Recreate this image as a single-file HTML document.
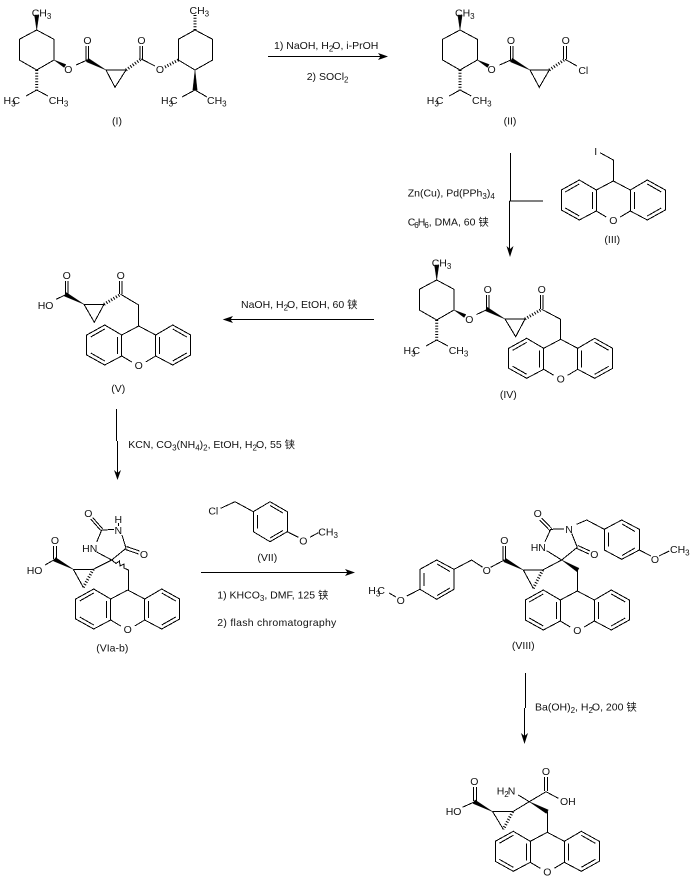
<!DOCTYPE html>
<html><head><meta charset="utf-8">
<style>
html,body{margin:0;padding:0;background:#fff}
svg{display:block}
path{fill:none;stroke:#000;stroke-width:1;shape-rendering:crispEdges}
.w{fill:#000;stroke:#000;stroke-width:.4;shape-rendering:auto}
.h{stroke-width:3;stroke-dasharray:1 1.8;shape-rendering:auto}
.a{fill:#000;stroke:none;shape-rendering:auto}
text{font-family:"Liberation Sans","Noto Sans CJK SC",sans-serif;font-size:10.5px;fill:#111}
.m{text-anchor:middle}
.s{font-size:8px}
</style></head><body>
<svg width="693" height="883" viewBox="0 0 693 883" xmlns="http://www.w3.org/2000/svg">
<rect width="693" height="883" fill="#fff"/>

<!-- (I) -->
<g>
<path d="M36.7 30L54 39.3V60L36.7 70L19.3 60V39.3ZM36.7 90L26 96M36.7 90L48 96"/>
<path class="w" d="M36.7 30L34.5 15H38.9Z"/>
<path class="w" d="M54 60L64.1 67.5L65.9 64.5Z"/>
<path class="h" d="M36.7 70V90"/>
<text x="31.7" y="16.7">CH<tspan class="s" dy="2.5">3</tspan></text>
<text x="68.3" y="73" class="m">O</text>
<text x="3.5" y="104">H<tspan class="s" dy="2.5">3</tspan><tspan dy="-2.5" dx="-3">C</tspan></text>
<text x="48.7" y="104">CH<tspan class="s" dy="2.5">3</tspan></text>
</g>
<path d="M76 65L87.3 60M86 60V46M88.6 60V46M106 70H126L115 87.3L106 70M141.3 59L155 66M140 59V46M142.6 59V46"/>
<path class="w" d="M106 70L88.3 58.2L86.3 61.8Z"/>
<path class="h" d="M126 70L141.3 59"/>
<text x="87.5" y="44" class="m">O</text>
<text x="141.5" y="44" class="m">O</text>
<text x="160" y="73" class="m">O</text>
<path d="M178.3 60V39.3L195 30L212.7 39.3V60L195 70L178.3 60M195 90L182 97M195 90L207 97"/>
<path class="h" d="M178.3 60L165 67M195 30V15"/>
<path class="w" d="M195 70L192.8 90H197.2Z"/>
<text x="189.5" y="14">CH<tspan class="s" dy="2.5">3</tspan></text>
<text x="161" y="104">H<tspan class="s" dy="2.5">3</tspan><tspan dy="-2.5" dx="-3">C</tspan></text>
<text x="207" y="104">CH<tspan class="s" dy="2.5">3</tspan></text>
<text x="117" y="124.5" class="m">(I)</text>

<!-- Arrow 1 -->
<path d="M268 56.5H382"/>
<path class="a" d="M388 56.5L378 53L380.5 56.5L378 60Z"/>
<text x="274" y="49">1) NaOH, H<tspan class="s" dy="2.5">2</tspan><tspan dy="-2.5" dx="-1">O, i-PrOH</tspan></text>
<text x="306.7" y="80">2) SOCl<tspan class="s" dy="2.5">2</tspan></text>

<!-- (II) -->
<g transform="translate(423.3,0)">
<path d="M36.7 30L54 39.3V60L36.7 70L19.3 60V39.3ZM36.7 90L26 96M36.7 90L48 96"/>
<path class="w" d="M36.7 30L34.5 15H38.9Z"/>
<path class="w" d="M54 60L64.1 67.5L65.9 64.5Z"/>
<path class="h" d="M36.7 70V90"/>
<text x="31.7" y="16.7">CH<tspan class="s" dy="2.5">3</tspan></text>
<text x="68.3" y="73" class="m">O</text>
<text x="3.5" y="104">H<tspan class="s" dy="2.5">3</tspan><tspan dy="-2.5" dx="-3">C</tspan></text>
<text x="48.7" y="104">CH<tspan class="s" dy="2.5">3</tspan></text>
</g>
<path d="M499.5 65L511 60M510.3 60V46M512.9 60V46M530 70H549.3L539.3 87.3L530 70M565 59.3L577 66M563.7 59V46M566.3 59V46"/>
<path class="w" d="M530 70L512.3 58.2L510.3 61.8Z"/>
<path class="h" d="M549.3 70L565 59.3"/>
<text x="511" y="44" class="m">O</text>
<text x="565.7" y="44" class="m">O</text>
<text x="583.3" y="74" class="m">Cl</text>
<text x="510" y="124.5" class="m">(II)</text>

<!-- Arrow II to IV -->
<path d="M510.5 153V201M509.5 201V250M509.5 201H543"/>
<path class="a" d="M510 257L506.5 246L510 249L513.5 246Z"/>
<text x="407.7" y="196.5">Zn(Cu), Pd(PPh<tspan class="s" dy="2.5">3</tspan><tspan dy="-2.5">)</tspan><tspan class="s" dy="2.5">4</tspan></text>
<text x="407.7" y="225.5">C<tspan class="s" dy="2.5" dx="-1">6</tspan><tspan dy="-2.5" dx="-1">H</tspan><tspan class="s" dy="2.5" dx="-1">6</tspan><tspan dy="-2.5">, DMA, 60 铗</tspan></text>

<!-- (III) -->
<text x="595.7" y="155" class="m">I</text>
<path d="M600 152.7L613.3 160V181"/>
<g transform="translate(613.3,181)">
<path d="M0 0L17 9V30L34 39L52 29V9L34 -1L17 9M0 0L-17 9V30L-34 39L-52 29V9L-34 -1L-17 9M-17 30L-7 36M17 30L7 36M-48 11L-34 3M-21 11V28M-48 27L-34 35M48 11L34 3M21 11V28M48 27L34 35"/>
<text x="0" y="43" class="m">O</text>
</g>
<text x="612.3" y="243" class="m">(III)</text>

<!-- (IV) -->
<g transform="translate(400,250)">
<path d="M36.7 30L54 39.3V60L36.7 70L19.3 60V39.3ZM36.7 90L26 96M36.7 90L48 96"/>
<path class="w" d="M36.7 30L34.5 15H38.9Z"/>
<path class="w" d="M54 60L64.1 67.5L65.9 64.5Z"/>
<path class="h" d="M36.7 70V90"/>
<text x="31.7" y="16.7">CH<tspan class="s" dy="2.5">3</tspan></text>
<text x="69.3" y="73" class="m">O</text>
<text x="3.5" y="104">H<tspan class="s" dy="2.5">3</tspan><tspan dy="-2.5" dx="-3">C</tspan></text>
<text x="48.7" y="104">CH<tspan class="s" dy="2.5">3</tspan></text>
</g>
<path d="M476.5 314.5L487.7 309.3M486.4 309V295M489 309V295M505 319H525L515.7 336.7L505 319M541.7 309.3L560.7 319.3V339.3M540.4 309V295M543 309V295"/>
<path class="w" d="M505 319L487.3 307.2L485.3 310.8Z"/>
<path class="h" d="M525 319L541.7 309.3"/>
<text x="487.7" y="293" class="m">O</text>
<text x="541.7" y="293" class="m">O</text>
<g transform="translate(560.7,339.3)">
<path d="M0 0L17 9V30L34 39L52 29V9L34 -1L17 9M0 0L-17 9V30L-34 39L-52 29V9L-34 -1L-17 9M-17 30L-7 36M17 30L7 36M-48 11L-34 3M-21 11V28M-48 27L-34 35M48 11L34 3M21 11V28M48 27L34 35"/>
<text x="0" y="43" class="m">O</text>
</g>
<text x="508.3" y="398" class="m">(IV)</text>

<!-- Arrow IV to V -->
<path d="M374 319.5H229"/>
<path class="a" d="M222.7 319.5L233 316L230.5 319.5L233 323Z"/>
<text x="241" y="308">NaOH, H<tspan class="s" dy="2.5">2</tspan><tspan dy="-2.5" dx="-1">O, EtOH, 60 铗</tspan></text>

<!-- (V) -->
<path d="M56 299.3L66.7 294.3M65.4 294V281M68 294V281M84 304.3H104L94.3 322.3L84 304.3M120.7 294.3L138.7 305V326M119.4 294V281M122 294V281"/>
<path class="w" d="M84 304.3L66.3 292.5L64.3 296.1Z"/>
<path class="h" d="M104 304.3L120.7 294.3"/>
<text x="66.7" y="279" class="m">O</text>
<text x="120.7" y="279" class="m">O</text>
<text x="37.7" y="309">HO</text>
<g transform="translate(138.7,326)">
<path d="M0 0L17 9V30L34 39L52 29V9L34 -1L17 9M0 0L-17 9V30L-34 39L-52 29V9L-34 -1L-17 9M-17 30L-7 36M17 30L7 36M-48 11L-34 3M-21 11V28M-48 27L-34 35M48 11L34 3M21 11V28M48 27L34 35"/>
<text x="0" y="43" class="m">O</text>
</g>
<text x="118.3" y="392" class="m">(V)</text>

<!-- Arrow V to VI -->
<path d="M116.5 409V441M117.5 441V474"/>
<path class="a" d="M117.5 480L114 470L117.5 473L121 470Z"/>
<text x="128.3" y="448">KCN, CO<tspan class="s" dy="2.5">3</tspan><tspan dy="-2.5">(NH</tspan><tspan class="s" dy="2.5">4</tspan><tspan dy="-2.5">)</tspan><tspan class="s" dy="2.5">2</tspan><tspan dy="-2.5">, EtOH, H</tspan><tspan class="s" dy="2.5">2</tspan><tspan dy="-2.5" dx="-1">O, 55 铗</tspan></text>

<!-- (VI) -->
<path d="M101.7 530L114 529.5M122 535L126 548.3L111.7 560M126.5 546.5L139.5 551M125.5 549.5L138.5 554M111.7 560L96.7 552M96.7 542L101.7 530M102.7 529L92.7 517.5M100.7 530.5L90.7 519M118.3 523V526"/>
<path d="M45 565L55 559.3M53.7 559V546M56.3 559V546M73.3 569.3H93.3L111.7 560M73.3 569.3L83.3 587.3M111.7 560L116 563.5L119.5 561L120 566L124 564L124 568L128.3 570V590"/>
<path class="w" d="M73.3 569.3L55.6 557.5L53.6 561.1Z"/>
<path class="h" d="M93.3 569.3L83.3 587.3"/>
<text x="88.3" y="517" class="m">O</text>
<text x="118.3" y="523" class="m">H</text>
<text x="118.3" y="534" class="m">N</text>
<text x="89.7" y="552" class="m">HN</text>
<text x="144" y="558" class="m">O</text>
<text x="55" y="544" class="m">O</text>
<text x="26.7" y="574">HO</text>
<g transform="translate(127.7,590)">
<path d="M0 0L17 9V30L34 39L52 29V9L34 -1L17 9M0 0L-17 9V30L-34 39L-52 29V9L-34 -1L-17 9M-17 30L-7 36M17 30L7 36M-48 11L-34 3M-21 11V28M-48 27L-34 35M48 11L34 3M21 11V28M48 27L34 35"/>
<text x="0" y="43" class="m">O</text>
</g>
<text x="112.3" y="651.5" class="m">(VIa-b)</text>

<!-- (VII) -->
<path d="M220.7 508.3L235 501.7L253.3 511.7L270 501.7L287.3 511.7V531.7L270 541.7L253.3 531.7V511.7M257.5 515V528.5M270 505.5L283 513M270 538L283 530.5M287.3 531.7L298.3 537.3M310 537.3L318.3 532.7"/>
<text x="213.3" y="514.5" class="m">Cl</text>
<text x="303.3" y="544.5" class="m">O</text>
<text x="318.3" y="535.5">CH<tspan class="s" dy="2.5">3</tspan></text>
<text x="267.3" y="561" class="m">(VII)</text>

<!-- Arrow VI to VIII -->
<path d="M201 572.5H349"/>
<path class="a" d="M355 572.5L345 569L347.5 572.5L345 576Z"/>
<text x="217.3" y="598.3">1) KHCO<tspan class="s" dy="2.5">3</tspan><tspan dy="-2.5">, DMF, 125 铗</tspan></text>
<text x="217.3" y="626" textLength="119">2) flash chromatography</text>

<!-- (VIII) -->
<text x="368.3" y="594">H<tspan class="s" dy="2.5">3</tspan><tspan dy="-2.5" dx="-3">C</tspan></text>
<text x="400.7" y="604" class="m">O</text>
<path d="M389 593L396 597M406.7 596L420 589.3V569.3L436.7 560L454 569.3V589.3L436.7 599.3L420 589.3M424 586V573M437 564L450 571.5M437 595.5L450 588M454 569.3L471.7 560L482.7 567.3M490.7 567.3L504.3 560M503 560V546M505.6 560V546M523.3 570H542.7L561.7 560M523.3 570L533.3 588.3"/>
<text x="486.7" y="574" class="m">O</text>
<text x="504.3" y="544" class="m">O</text>
<path class="w" d="M523.3 570L505.6 558.2L503.6 561.8Z"/>
<path class="h" d="M542.7 570L533.3 588.3"/>
<path d="M546.7 550.7L561.7 560L577.3 547.3M545 541.7L550.7 529.3L564 529M551.7 528.5L541.7 518M549.7 530.5L539.7 520M571.7 533.3L577.3 547.3M577.8 545.5L590 551M576.8 548.5L589 554M577.3 570V591M576.7 524.3L586.7 520L604.3 529.3L621.7 520L639.3 529.3V550L621.7 559.3L604.3 550V529.3M608.3 532.5V546.5M622 524L635 531.5M622 555.5L635 548M639.3 550L651 556M659 556L669.3 551"/>
<path class="w" d="M561.7 560L579 568.2L577 571.8Z"/>
<text x="538.3" y="551" class="m">HN</text>
<text x="537.7" y="517" class="m">O</text>
<text x="569" y="533" class="m">N</text>
<text x="594.3" y="558" class="m">O</text>
<text x="655" y="563" class="m">O</text>
<text x="670" y="553">CH<tspan class="s" dy="2.5">3</tspan></text>
<g transform="translate(577.3,591)">
<path d="M0 0L17 9V30L34 39L52 29V9L34 -1L17 9M0 0L-17 9V30L-34 39L-52 29V9L-34 -1L-17 9M-17 30L-7 36M17 30L7 36M-48 11L-34 3M-21 11V28M-48 27L-34 35M48 11L34 3M21 11V28M48 27L34 35"/>
<text x="0" y="43" class="m">O</text>
</g>
<text x="523.3" y="649" class="m">(VIII)</text>

<!-- Arrow VIII to IX -->
<path d="M525.5 673V708M524.5 708V738"/>
<path class="a" d="M524.5 744L521 733L524.5 736L528 733Z"/>
<text x="535" y="710.7">Ba(OH)<tspan class="s" dy="2.5">2</tspan><tspan dy="-2.5">, H</tspan><tspan class="s" dy="2.5">2</tspan><tspan dy="-2.5" dx="-1">O, 200 铗</tspan></text>

<!-- (IX) -->
<path d="M462.3 807.3L475 801.7M473.7 801V787M476.3 801V787M492.7 811.7H512.7L529.3 801.7M492.7 811.7L503.3 829.3M518.3 795L529.3 801.7L546 791.7L558.3 798.3M544.7 791V777M547.3 791V777M547.3 811.7V832.3"/>
<path class="w" d="M492.7 811.7L475 799.9L473 803.5Z"/>
<path class="w" d="M529.3 801.7L548.3 809.9L546.3 813.5Z"/>
<path class="h" d="M512.7 811.7L503.3 829.3"/>
<text x="445.7" y="815">HO</text>
<text x="474.3" y="785" class="m">O</text>
<text x="546" y="775" class="m">O</text>
<text x="496.7" y="794.7">H<tspan class="s" dy="2.5">2</tspan><tspan dy="-2.5" dx="-1">N</tspan></text>
<text x="560" y="805">OH</text>
<g transform="translate(547.3,832.3)">
<path d="M0 0L17 9V30L34 39L52 29V9L34 -1L17 9M0 0L-17 9V30L-34 39L-52 29V9L-34 -1L-17 9M-17 30L-7 36M17 30L7 36M-48 11L-34 3M-21 11V28M-48 27L-34 35M48 11L34 3M21 11V28M48 27L34 35"/>
<text x="0" y="43" class="m">O</text>
</g>
</svg>
</body></html>
